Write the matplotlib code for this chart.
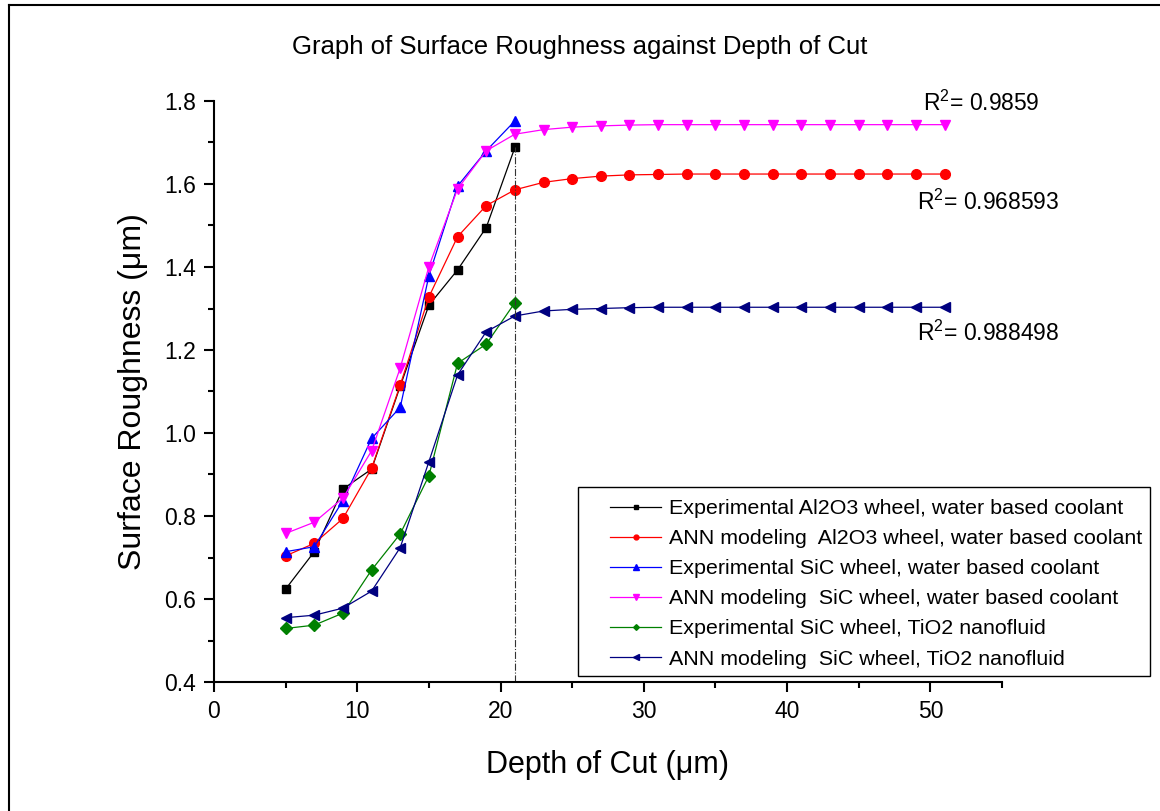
# Surface roughness vs depth of cut, experimental and ANN curves
import matplotlib.pyplot as plt
from matplotlib.lines import Line2D
from matplotlib.patches import Rectangle
from matplotlib.ticker import MultipleLocator

plt.rcParams["font.family"] = ["Liberation Sans", "DejaVu Sans"]
plt.rcParams["mathtext.fontset"] = "custom"
plt.rcParams["mathtext.rm"] = "Liberation Sans"

# depth of cut (um)
x_exp = [5, 7, 9, 11, 13, 15, 17, 19, 21]
x_ann = [5, 7, 9, 11, 13, 15, 17, 19, 21, 23, 25, 27, 29, 31, 33, 35, 37, 39,
         41, 43, 45, 47, 49, 51]

# surface roughness (um)
exp_al2o3 = [0.624, 0.714, 0.865, 0.913, 1.113, 1.308, 1.393, 1.495, 1.688]
ann_al2o3 = [0.704, 0.734, 0.794, 0.915, 1.116, 1.328, 1.473, 1.548, 1.586,
             1.604, 1.613, 1.619, 1.622, 1.623, 1.624, 1.624, 1.624, 1.624,
             1.624, 1.624, 1.624, 1.624, 1.624, 1.624]
exp_sic = [0.714, 0.726, 0.837, 0.987, 1.062, 1.379, 1.595, 1.680, 1.752]
ann_sic = [0.758, 0.785, 0.843, 0.957, 1.157, 1.401, 1.588, 1.680, 1.720,
           1.731, 1.737, 1.740, 1.742, 1.743, 1.743, 1.743, 1.743, 1.743,
           1.743, 1.743, 1.743, 1.743, 1.743, 1.743]
exp_tio2 = [0.529, 0.537, 0.566, 0.670, 0.757, 0.897, 1.168, 1.214, 1.314]
ann_tio2 = [0.555, 0.561, 0.578, 0.619, 0.724, 0.931, 1.140, 1.244, 1.282,
            1.294, 1.298, 1.300, 1.302, 1.303, 1.303, 1.303, 1.303, 1.303,
            1.303, 1.303, 1.303, 1.303, 1.303, 1.303]

r2_labels = ["0.9859", "0.968593", "0.988498"]
r2_pos = [(49.5, 1.795), (49.1, 1.557), (49.1, 1.241)]

labels = [
    "Experimental Al2O3 wheel, water based coolant",
    "ANN modeling  Al2O3 wheel, water based coolant",
    "Experimental SiC wheel, water based coolant",
    "ANN modeling  SiC wheel, water based coolant",
    "Experimental SiC wheel, TiO2 nanofluid",
    "ANN modeling  SiC wheel, TiO2 nanofluid",
]

fig = plt.figure(figsize=(11.6, 8.11), dpi=100)
ax = fig.add_axes([214 / 1160, 129 / 811, 788 / 1160, 581 / 811])

series = [
    (x_exp, exp_al2o3, "black", "s", 5.8),
    (x_ann, ann_al2o3, "#ff0000", "o", 7),
    (x_exp, exp_sic, "#0000ff", "^", 7.5),
    (x_ann, ann_sic, "#ff00ff", "v", 7.5),
    (x_exp, exp_tio2, "#008000", "D", 5.8),
    (x_ann, ann_tio2, "#000080", "<", 7.5),
]
handles = []
for (xs, ys, col, mk, ms), lab in zip(series, labels):
    h, = ax.plot(xs, ys, color=col, marker=mk, ms=ms, lw=0.9,
                 mec=col, mfc=col, label=lab)
    handles.append(h)

# dash-dot guide at the last experimental point
ax.vlines(x_exp[-1], 0.4, exp_al2o3[-1], colors="#333333",
          linestyles="dashdot", lw=0.8)

ax.set_xlim(0, 55)
ax.set_ylim(0.4, 1.8)
ax.xaxis.set_major_locator(MultipleLocator(10))
ax.xaxis.set_minor_locator(MultipleLocator(5))
ax.yaxis.set_major_locator(MultipleLocator(0.2))
ax.yaxis.set_minor_locator(MultipleLocator(0.1))
ax.yaxis.set_major_formatter(plt.FormatStrFormatter("%.1f"))
for s in ["top", "right"]:
    ax.spines[s].set_visible(False)
for s in ["left", "bottom"]:
    ax.spines[s].set_linewidth(1.5)
ax.tick_params(which="major", direction="out", length=7, width=1.5,
               labelsize=16.5, pad=6)
ax.tick_params(which="minor", direction="out", length=4, width=1.5)

ax.set_xlabel("Depth of Cut (\u03bcm)", fontsize=22)
ax.xaxis.set_label_coords(0.5, -0.143)
ax.xaxis.label.set_va("center")
ax.set_ylabel("Surface Roughness (\u03bcm)", fontsize=23)
ax.yaxis.set_label_coords(-0.103, 0.5)
ax.yaxis.label.set_va("center")

fig.text(0.5, 1 - 47 / 811, "Graph of Surface Roughness against Depth of Cut",
         ha="center", va="center", fontsize=18.5)

for txt, (px, py) in zip(r2_labels, r2_pos):
    ax.text(px, py, "R$^{2}$= " + txt, fontsize=16.5, ha="left",
            va="center", clip_on=False)

leg = fig.legend(handles=handles, loc="upper left",
                 bbox_to_anchor=(610 / 1160, 1 - 499 / 811),
                 frameon=False, fontsize=15.4, markerscale=0.5,
                 handlelength=2.4, handletextpad=0.35, labelspacing=0.52,
                 borderpad=0, borderaxespad=0)

# legend box and outer frame
fig.add_artist(Rectangle((578 / 1160, 1 - 676 / 811), 572 / 1160, 189 / 811,
                         transform=fig.transFigure, fill=False,
                         ec="black", lw=1.0))
fig.add_artist(Line2D([9 / 1160, 9 / 1160], [0, 1 - 5 / 811],
                      transform=fig.transFigure, color="black", lw=1.5))
fig.add_artist(Line2D([9 / 1160, 1], [1 - 5 / 811, 1 - 5 / 811],
                      transform=fig.transFigure, color="black", lw=1.5))

fig.savefig("out.png", dpi=100)
